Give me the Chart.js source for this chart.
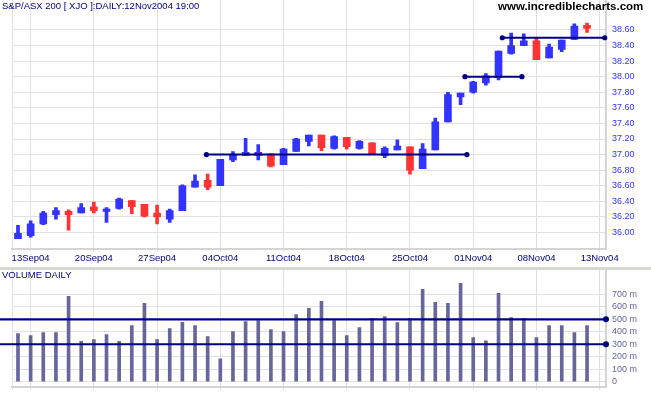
<!DOCTYPE html>
<html><head><meta charset="utf-8">
<script src="https://cdn.jsdelivr.net/npm/chart.js@4.4.0/dist/chart.umd.min.js"></script>
<style>
html,body{margin:0;padding:0;background:#fff;width:651px;height:395px;overflow:hidden;position:relative;font-family:"Liberation Sans",Arial,sans-serif}
#pc{position:absolute;left:0;top:0}
#vc{position:absolute;left:0;top:270px}
.sep{position:absolute;left:0;top:267px;width:651px;height:3px;background:#d8d8d0}
.t{position:absolute;white-space:nowrap;line-height:1}
#title{left:2px;top:1px;font-size:9.5px;color:#000080}
#site{left:498px;top:1px;font-size:11.5px;font-weight:bold;color:#000}
#vtitle{left:2px;top:270px;font-size:9.5px;color:#000080}
</style></head><body>
<canvas id="pc" width="651" height="266"></canvas>
<div class="sep"></div>
<canvas id="vc" width="651" height="125"></canvas>
<div class="t" id="title">S&amp;P/ASX 200 [ XJO ]:DAILY:12Nov2004 19:00</div>
<div class="t" id="site">www.incrediblecharts.com</div>
<div class="t" id="vtitle">VOLUME DAILY</div>
<script>
// ---- data ----
const days = ['10Sep','13Sep','14Sep','15Sep','16Sep','17Sep','20Sep','21Sep','22Sep','23Sep','24Sep',
  '27Sep','28Sep','29Sep','30Sep','01Oct','04Oct','05Oct','06Oct','07Oct','08Oct','11Oct','12Oct','13Oct','14Oct','15Oct',
  '18Oct','19Oct','20Oct','21Oct','22Oct','25Oct','26Oct','27Oct','28Oct','29Oct','01Nov','02Nov','03Nov','04Nov','05Nov',
  '08Nov','09Nov','10Nov','11Nov','12Nov'];
const open  = [35.92,35.96,36.11,36.23,36.27,36.25,36.33,36.27,36.31,36.41,36.36,36.25,36.17,36.28,36.58,36.67,36.60,36.93,36.99,36.99,37.01,36.87,37.04,37.17,37.25,37.08,37.22,37.08,37.15,36.99,37.06,37.10,36.82,37.06,37.42,37.74,37.80,37.92,37.99,38.30,38.40,38.46,38.24,38.35,38.48,38.66];
const high  = [36.09,36.15,36.27,36.32,36.29,36.37,36.39,36.32,36.44,36.41,36.36,36.35,36.30,36.61,36.74,36.75,36.94,37.04,37.21,37.13,37.01,37.08,37.21,37.25,37.25,37.24,37.22,37.18,37.15,37.10,37.19,37.10,37.14,37.47,37.80,37.79,37.94,38.04,38.33,38.56,38.55,38.50,38.42,38.47,38.68,38.69];
const low   = [35.92,35.94,36.10,36.17,36.03,36.25,36.25,36.13,36.30,36.24,36.20,36.11,36.13,36.28,36.58,36.55,36.60,36.91,36.99,36.93,36.84,36.87,37.04,37.11,37.05,37.07,37.07,37.07,37.01,36.96,37.06,36.75,36.82,37.06,37.42,37.64,37.79,37.89,37.96,38.29,38.40,38.22,38.24,38.32,38.48,38.57];
const close = [35.99,36.11,36.25,36.28,36.23,36.32,36.28,36.30,36.43,36.33,36.21,36.20,36.28,36.60,36.66,36.58,36.94,37.00,37.03,37.03,36.85,37.07,37.20,37.25,37.09,37.23,37.10,37.17,37.01,37.08,37.11,36.80,37.07,37.42,37.77,37.79,37.93,38.01,38.33,38.40,38.46,38.22,38.38,38.47,38.65,38.62];
const volume = [385,369,393,393,684,323,337,377,323,450,627,337,425,476,450,361,183,401,482,490,417,401,538,587,643,490,369,433,506,522,474,506,740,635,627,789,353,328,708,514,506,353,450,450,393,450];
const tickIndex  = [1,6,11,16,21,26,31,36,41,46];
const tickLabels = ['13Sep04','20Sep04','27Sep04','04Oct04','11Oct04','18Oct04','25Oct04','01Nov04','08Nov04','13Nov04'];
const priceTicks = [36.0,36.2,36.4,36.6,36.8,37.0,37.2,37.4,37.6,37.8,38.0,38.2,38.4,38.6];
const volumeTicks = [0,100,200,300,400,500,600,700];
const supportPrice = [37.00,38.00,38.50];
const supportFrom  = [14.9,35.35,38.3];
const supportTo    = [35.5,39.85,46.4];
const volLevels = [500,300];
const volFrom = -1.42, volTo = 46.5;

// ---- styles ----
const upC='#3333ff', dnC='#ff3333', navy='#000080', gridC='#e0e0e0', borderC='#d4d4d4';
const FF='"Liberation Sans", Arial, sans-serif';
const XMIN=-0.45, XMAX=46.5;
const cols = close.map((c,i)=> c>=open[i]?upC:dnC);

function xAxis(h, withLabels){
  return {type:'linear',min:XMIN,max:XMAX,offset:false,
    afterBuildTicks:s=>{s.ticks=[{value:XMIN}].concat(tickIndex.map(v=>({value:v})));},
    ticks:{autoSkip:false,maxRotation:0,minRotation:0,padding:1,color:navy,font:{family:FF,size:9.5},
      callback:v=>{ if(!withLabels) return ''; const k=tickIndex.indexOf(v); return k<0?'':tickLabels[k]; }},
    grid:{color:gridC,lineWidth:1,drawTicks:true,tickLength:3,offset:false},
    border:{display:true,color:borderC,width:2},
    afterFit:s=>{s.height=h;s.paddingLeft=0;s.paddingRight=0;}
  };
}

new Chart(document.getElementById('pc'),{
  type:'bar',
  data:{datasets:[
    ...supportPrice.map((p,k)=>({type:'line',data:[{x:supportFrom[k],y:p},{x:supportTo[k],y:p}],
      borderColor:navy,backgroundColor:navy,borderWidth:2,pointRadius:2.6,pointBorderWidth:0,order:0,clip:false})),
    {data:open.map((o,i)=>({x:i,y:[o,close[i]]})),backgroundColor:cols,borderWidth:0,barThickness:7,grouped:false,order:1},
    {data:high.map((h,i)=>({x:i,y:[low[i],h]})),backgroundColor:cols,borderWidth:0,barThickness:3,grouped:false,order:2}
  ]},
  options:{responsive:false,animation:false,devicePixelRatio:1,events:[],
    layout:{autoPadding:false,padding:{left:12.3,right:0,top:0,bottom:0}},
    plugins:{legend:{display:false},tooltip:{enabled:false}},
    scales:{
      x:xAxis(17.5,true),
      y:{position:'right',min:35.794,max:38.985,
        afterBuildTicks:s=>{s.ticks=priceTicks.map(v=>({value:v}));},
        ticks:{color:upC,padding:6,font:{family:FF,size:9},callback:v=>Number(v).toFixed(2)},
        grid:{color:gridC,drawTicks:false},
        border:{display:true,color:borderC,width:2},
        afterFit:s=>{s.width=45;s.paddingTop=0;s.paddingBottom=0;}
      }
    }
  }
});

new Chart(document.getElementById('vc'),{
  type:'bar',
  data:{datasets:[
    ...volLevels.map(v=>({type:'line',data:[{x:volFrom,y:v},{x:volTo,y:v}],
      borderColor:navy,backgroundColor:navy,borderWidth:2.2,pointRadius:[0,3],pointBorderWidth:0,order:0,clip:false})),
    {data:volume.map((v,i)=>({x:i,y:v})),backgroundColor:'#66669c',borderWidth:0,barThickness:3,grouped:false,order:1}
  ]},
  options:{responsive:false,animation:false,devicePixelRatio:1,events:[],
    layout:{autoPadding:false,padding:{left:12.3,right:0,top:0,bottom:0}},
    plugins:{legend:{display:false},tooltip:{enabled:false}},
    scales:{
      x:xAxis(8.3,false),
      y:{position:'right',min:-40,max:895,
        afterBuildTicks:s=>{s.ticks=volumeTicks.map(v=>({value:v}));},
        ticks:{color:'#66669c',padding:6,font:{family:FF,size:9},callback:v=>v===0?'0':v+' m'},
        grid:{color:gridC,drawTicks:false},
        border:{display:true,color:borderC,width:2},
        afterFit:s=>{s.width=45;s.paddingTop=0;s.paddingBottom=0;}
      }
    }
  }
});
</script>
</body></html>
